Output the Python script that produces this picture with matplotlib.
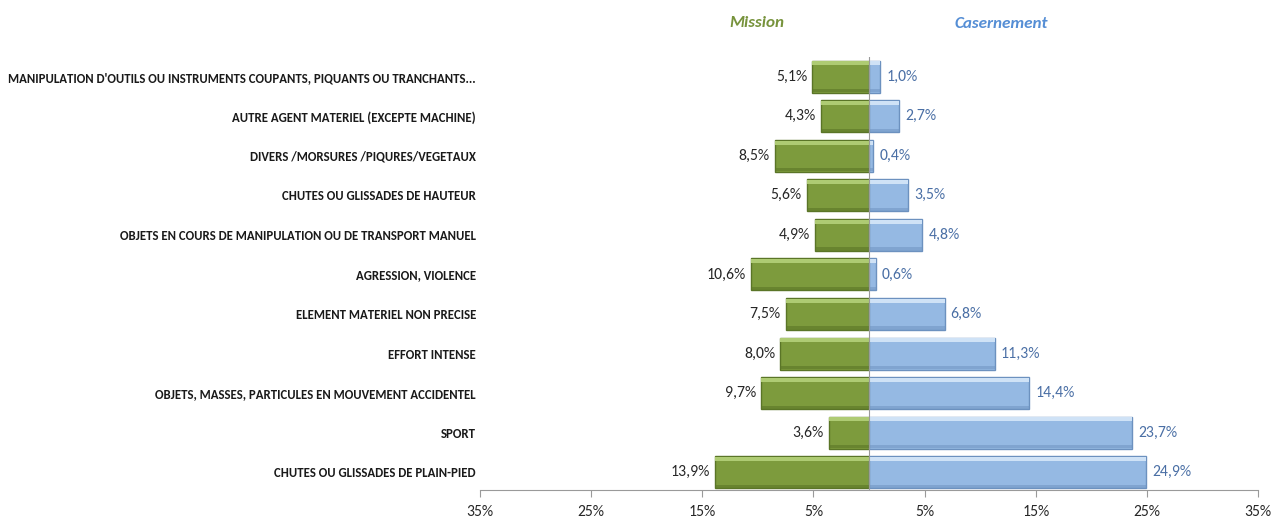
import numpy as np
import matplotlib.pyplot as plt

# data (top to bottom as in the chart)
categories = [
    "MANIPULATION D'OUTILS OU INSTRUMENTS COUPANTS, PIQUANTS OU TRANCHANTS...",
    "AUTRE AGENT MATERIEL (EXCEPTE MACHINE)",
    "DIVERS /MORSURES /PIQURES/VEGETAUX",
    "CHUTES OU GLISSADES DE HAUTEUR",
    "OBJETS EN COURS DE MANIPULATION OU DE TRANSPORT MANUEL",
    "AGRESSION, VIOLENCE",
    "ELEMENT MATERIEL NON PRECISE",
    "EFFORT INTENSE",
    "OBJETS, MASSES, PARTICULES EN MOUVEMENT ACCIDENTEL",
    "SPORT",
    "CHUTES OU GLISSADES DE PLAIN-PIED",
]
mission = [5.1, 4.3, 8.5, 5.6, 4.9, 10.6, 7.5, 8.0, 9.7, 3.6, 13.9]
casernement = [1.0, 2.7, 0.4, 3.5, 4.8, 0.6, 6.8, 11.3, 14.4, 23.7, 24.9]
ticks = [-35, -25, -15, -5, 5, 15, 25, 35]

plt.rcParams['font.family'] = ['Carlito', 'DejaVu Sans']

green = '#7D9B3D'
green_dark = '#5A7527'
green_light = '#AECB73'
blue = '#95B9E3'
blue_dark = '#6C91BF'
blue_light = '#CFE2F6'

fig = plt.figure(figsize=(12.71, 5.22), dpi=100)
ax = fig.add_axes([0.3777, 0.0613, 0.6121, 0.8297])

n = len(categories)
y = np.arange(n)[::-1]
m = -np.array(mission)
c = np.array(casernement)
h = 0.81

# bars with a simple bevel look
ax.barh(y, m, height=h, color=green, edgecolor=green_dark, linewidth=1, zorder=2)
ax.barh(y + h / 2 - 0.07, m, height=0.1, color=green_light, linewidth=0, zorder=3)
ax.barh(y - h / 2 + 0.05, m, height=0.08, color=green_dark, linewidth=0, zorder=3, alpha=0.6)
ax.barh(y, c, height=h, color=blue, edgecolor=blue_dark, linewidth=1, zorder=2)
ax.barh(y + h / 2 - 0.07, c, height=0.1, color=blue_light, linewidth=0, zorder=3)
ax.barh(y - h / 2 + 0.05, c, height=0.08, color=blue_dark, linewidth=0, zorder=3, alpha=0.5)

# central axis
ax.axvline(0, color='#9a9a9a', linewidth=0.8, zorder=4)
ax.set_yticks(y)
ax.set_yticklabels(categories, fontsize=9.2, fontweight='bold', color='#1a1a1a')
ax.tick_params(axis='y', length=0, pad=3)

for yi, mv, cv in zip(y, mission, casernement):
    ax.text(-mv - 0.45, yi, f"{mv:.1f}%".replace('.', ','), ha='right', va='center',
            fontsize=11.3, color='#262626')
    ax.text(cv + 0.55, yi, f"{cv:.1f}%".replace('.', ','), ha='left', va='center',
            fontsize=11.3, color='#4A6FA5')

ax.set_xlim(-35, 35)
ax.set_ylim(-0.45, n - 0.5)
ax.set_xticks(ticks)
ax.set_xticklabels([f"{abs(t)}%" for t in ticks], fontsize=11.3, color='#262626')
ax.tick_params(axis='x', length=5, color='#9a9a9a', pad=6)
for s in ['top', 'right', 'left']:
    ax.spines[s].set_visible(False)
ax.spines['bottom'].set_color('#9a9a9a')

fig.text(757 / 1271, 1 - 23 / 522, 'Mission', ha='center', va='center', fontsize=12.3,
         fontweight='bold', fontstyle='italic', color='#77933C')
fig.text(1001 / 1271, 1 - 24 / 522, 'Casernement', ha='center', va='center', fontsize=12.3,
         fontweight='bold', fontstyle='italic', color='#558ED5')

fig.savefig('out.png', dpi=100)
